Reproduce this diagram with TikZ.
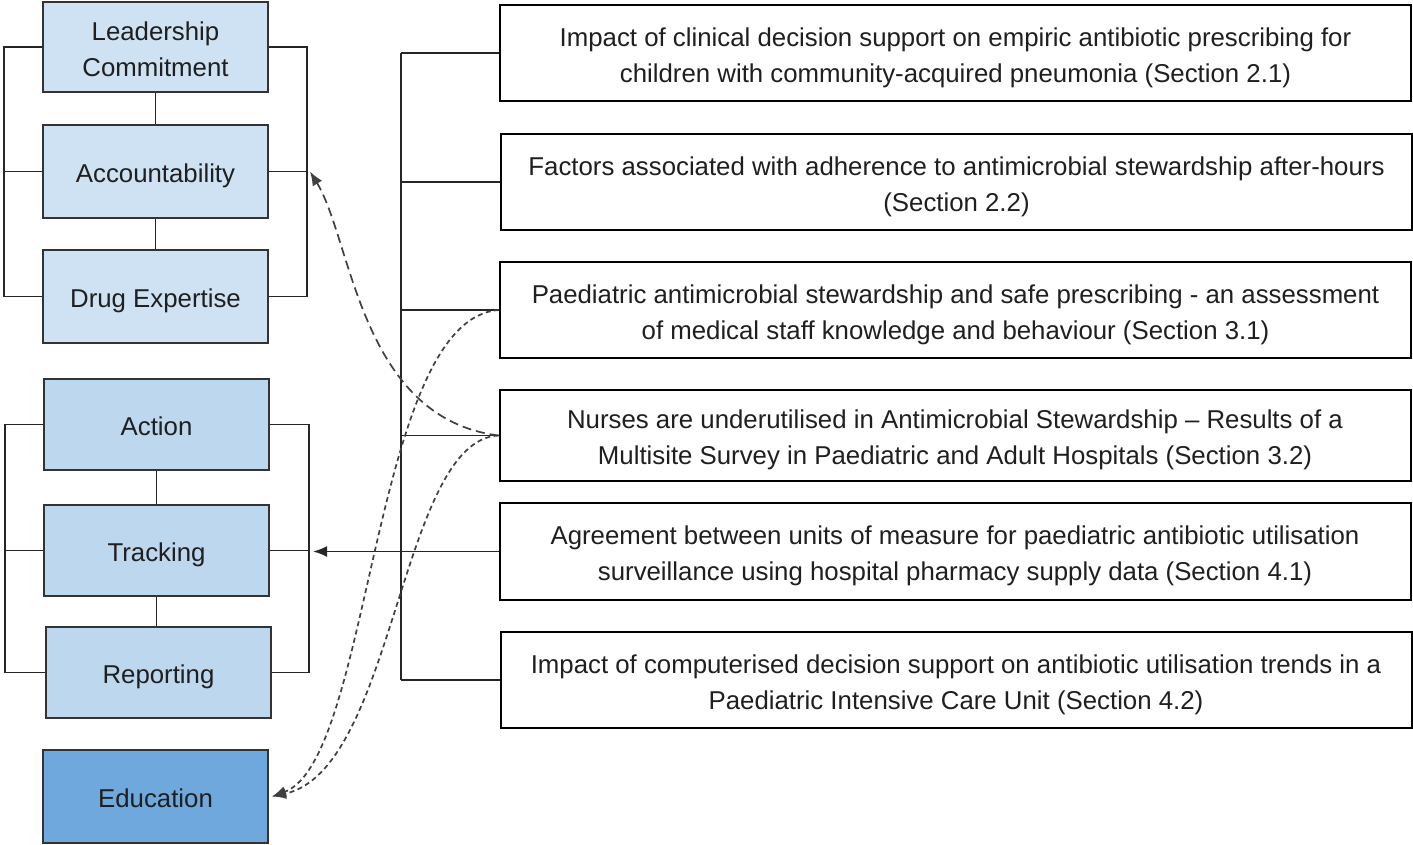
\documentclass[tikz,border=0pt]{standalone}
\usepackage{fontspec}
\setmainfont{Liberation Sans}
\usetikzlibrary{arrows.meta,calc}
\definecolor{boxA}{HTML}{CFE2F3}
\definecolor{boxB}{HTML}{BDD7EE}
\definecolor{boxC}{HTML}{6FA8DC}
\definecolor{edge}{HTML}{333333}
\newcommand\boxtext[1]{\raisebox{-4pt}[\height][\depth]{\begin{tabular}{@{}c@{}}#1\end{tabular}}}
\tikzset{
  x=1pt,y=-1pt,
  every node/.style={font=\fontsize{25.8}{36}\selectfont, text=black!88},
  lbox/.style={draw=edge, line width=2pt, rectangle, minimum width=225pt, align=center, inner sep=0pt},
  rbox/.style={draw=black, line width=2pt, rectangle, fill=white, minimum width=911pt, minimum height=96pt, align=center, inner sep=0pt},
  conn/.style={draw=black!85, line width=1.8pt},
  tip/.style={-{Latex[length=14pt,width=11pt]}},
  longdash/.style={draw=black!75, line width=1.7pt, dash pattern=on 9pt off 5pt, tip},
  shortdash/.style={draw=black!75, line width=1.7pt, dash pattern=on 5pt off 3.5pt, tip},
  solidarrow/.style={draw=black!85, line width=1.8pt, tip}
}
\begin{document}
\begin{tikzpicture}
\useasboundingbox (0,0) rectangle (1413,845);
% left group 1
\node[lbox, fill=boxA, minimum height=90pt] (lead) at (155.5,47) {\boxtext{Leadership\\Commitment}};
\node[lbox, fill=boxA, minimum height=93pt] (acc) at (155.5,171.5) {\boxtext{Accountability}};
\node[lbox, fill=boxA, minimum height=93pt] (drug) at (155.5,296.5) {\boxtext{Drug Expertise}};
% left group 2
\node[lbox, fill=boxB, minimum height=91pt] (action) at (156.5,424.5) {\boxtext{Action}};
\node[lbox, fill=boxB, minimum height=91pt] (track) at (156.5,550.5) {\boxtext{Tracking}};
\node[lbox, fill=boxB, minimum height=91pt] (report) at (158.5,672.5) {\boxtext{Reporting}};
\node[lbox, fill=boxC, minimum height=93pt] (edu) at (155.5,796.5) {\boxtext{Education}};
% right boxes
\node[rbox] (r1) at (955.5,53) {\boxtext{Impact of clinical decision support on empiric antibiotic prescribing for\\children with community-acquired pneumonia (Section 2.1)}};
\node[rbox] (r2) at (956.5,182) {\boxtext{Factors associated with adherence to antimicrobial stewardship after-hours\\(Section 2.2)}};
\node[rbox] (r3) at (955.5,310) {\boxtext{Paediatric antimicrobial stewardship and safe prescribing - an assessment\\of medical staff knowledge and behaviour (Section 3.1)}};
\node[rbox, minimum height=91pt] (r4) at (955,435.5) {\boxtext{Nurses are underutilised in Antimicrobial Stewardship -- Results of a\\Multisite Survey in Paediatric and Adult Hospitals (Section 3.2)}};
\node[rbox, minimum height=97pt] (r5) at (955,551.5) {\boxtext{Agreement between units of measure for paediatric antibiotic utilisation\\surveillance using hospital pharmacy supply data (Section 4.1)}};
\node[rbox] (r6) at (956,680) {\boxtext{Impact of computerised decision support on antibiotic utilisation trends in a\\Paediatric Intensive Care Unit (Section 4.2)}};
% bracket coordinates
\coordinate (L1) at (4,0);
\coordinate (R1) at (307,0);
\coordinate (L2) at (5,0);
\coordinate (R2) at (309,0);
\coordinate (T) at (401,0);
% group 1 connectors
\draw[conn] (lead.south) -- (acc.north);
\draw[conn] (acc.south) -- (drug.north);
\draw[conn] (lead.west) -- (lead.west -| L1) -- (drug.west -| L1) -- (drug.west);
\draw[conn] (acc.west) -- (acc.west -| L1);
\draw[conn] (lead.east) -- (lead.east -| R1) -- (drug.east -| R1) -- (drug.east);
\draw[conn] (acc.east) -- (acc.east -| R1);
% group 2 connectors
\draw[conn] (action.south) -- (track.north);
\draw[conn] (track.south) -- (track.south |- report.north);
\draw[conn] (action.west) -- (action.west -| L2) -- (report.west -| L2) -- (report.west);
\draw[conn] (track.west) -- (track.west -| L2);
\draw[conn] (action.east) -- (action.east -| R2) -- (report.east -| R2) -- (report.east);
\draw[conn] (track.east) -- (track.east -| R2);
% trunk
\draw[conn] (r1.west -| T) -- (r6.west -| T);
\draw[conn] (r1.west) -- (r1.west -| T);
\draw[conn] (r2.west) -- (r2.west -| T);
\draw[conn] (r3.west) -- (r3.west -| T);
\draw[conn] (r4.west) -- (r4.west -| T);
\draw[conn] (r6.west) -- (r6.west -| T);
\coordinate (trackin) at ($(track.east -| R2)+(4,0)$);
\draw[solidarrow] (r5.west) -- (r5.west -| trackin);
% dashed curves
\coordinate (accin) at ($(acc.east -| R1)+(3,0)$);
\coordinate (eduin) at ($(edu.east)+(3,0)$);
\draw[longdash] (r4.west) .. controls (360,418) and (352,240) .. (accin);
\draw[shortdash] (r3.west) .. controls (372,318) and (372,760) .. (eduin);
\draw[shortdash] (r4.west) .. controls (400,440) and (395,770) .. (eduin);
\end{tikzpicture}
\end{document}
